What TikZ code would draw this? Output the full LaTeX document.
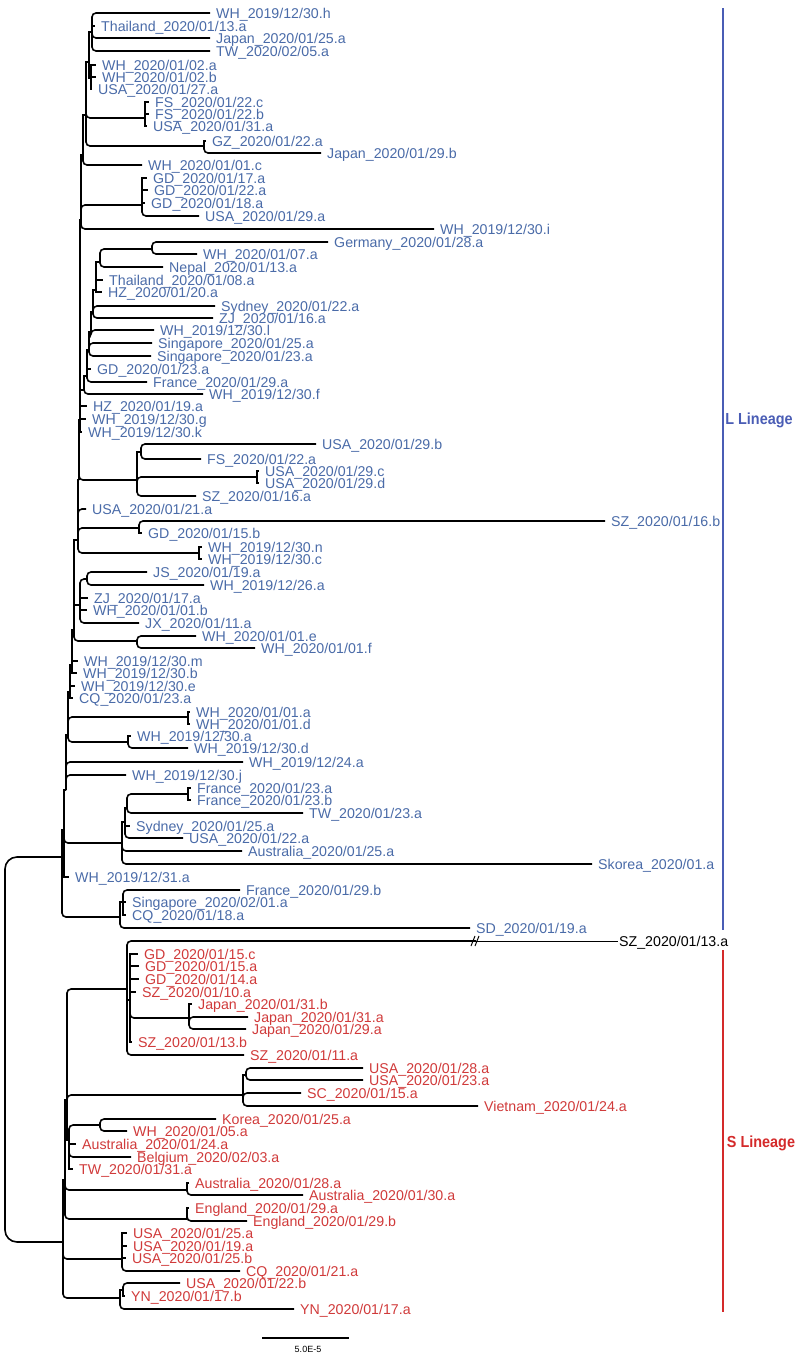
\documentclass[tikz,border=0pt]{standalone}
\usepackage{fontspec}
\setmainfont{Liberation Sans}
\definecolor{Lblue}{HTML}{4A6BA8}
\definecolor{Sred}{HTML}{D03A3A}
\definecolor{Lbar}{HTML}{4A5DB5}
\definecolor{Sbar}{HTML}{D42A2A}
\tikzset{
  br/.style={line width=1.6pt, rounded corners=4pt},
  brs/.style={line width=1.6pt},
  lab/.style={anchor=base west, inner sep=0pt, xshift=6pt, yshift=-5pt, font=\fontsize{14.2}{16}\selectfont},
  lin/.style={line width=2pt},
  linlab/.style={inner sep=0pt, font=\bfseries\fontsize{16}{18}\selectfont}
}
\newcommand\tp[5]{\coordinate (#1) at (#3,#4); \draw[br] (#2) |- (#1); \node[lab] (#1l) at (#1) {#5};}
\newcommand\tps[5]{\coordinate (#1) at (#3,#4); \draw[brs] (#2) |- (#1); \node[lab] (#1l) at (#1) {#5};}
\newcommand\nd[4]{\coordinate (#1) at (#3,#4); \draw[br] (#2) |- (#1);}
\newcommand\nds[4]{\coordinate (#1) at (#3,#4); \draw[brs] (#2) |- (#1);}
\begin{document}
\begin{tikzpicture}[x=1pt,y=-1pt]
\useasboundingbox (0,0) rectangle (795,1358);
\coordinate (R) at (5,1050);
\coordinate (L0) at (62,857);
\coordinate (S0) at (63,1242);
\draw[br, rounded corners=12pt] (R) |- (L0);
\draw[br, rounded corners=12pt] (R) |- (S0);
% ---------------- L lineage ----------------
\begin{scope}[lab/.append style={text=Lblue}]
\nds{L1}{L0}{64}{830}
\nd{F}{L0}{120}{917}
\nds{F1}{F}{123}{902}
\tp{frb}{F1}{240}{890}{France\_2020/01/29.b}
\tps{sgb}{F1}{126}{902}{Singapore\_2020/02/01.a}
\tps{cqb}{F1}{126}{915}{CQ\_2020/01/18.a}
\tp{sdb}{F}{470}{928}{SD\_2020/01/19.a}
\nd{G}{L1}{122}{843}
\nds{G1}{G}{125}{822}
\nds{G2}{G1}{127}{808}
\nd{Fr}{G2}{188}{794}
\tps{frc}{Fr}{191}{788}{France\_2020/01/23.a}
\tps{frd}{Fr}{191}{800}{France\_2020/01/23.b}
\tp{twc}{G2}{303}{813}{TW\_2020/01/23.a}
\tps{syc}{G1}{130}{826}{Sydney\_2020/01/25.a}
\tp{usc}{G1}{183}{838}{USA\_2020/01/22.a}
\tp{auc}{G}{242}{851}{Australia\_2020/01/25.a}
\tp{skc}{G}{592}{864}{Skorea\_2020/01.a}
\tps{whd}{L1}{69}{877}{WH\_2019/12/31.a}
\nds{L2}{L1}{66}{790}
\tp{whe}{L2}{126}{775}{WH\_2019/12/30.j}
\tp{whf}{L2}{243}{762}{WH\_2019/12/24.a}
\nds{L3}{L2}{68}{735}
\nd{Had}{L3}{188}{717}
\tps{whg}{Had}{190}{712}{WH\_2020/01/01.a}
\tps{whh}{Had}{190}{724}{WH\_2020/01/01.d}
\nd{Hd}{L3}{128}{742}
\tps{whi}{Hd}{131}{736}{WH\_2019/12/30.a}
\tp{whj}{Hd}{188}{748}{WH\_2019/12/30.d}
\nds{L4}{L3}{70}{692}
\tps{cqc}{L4}{73}{698}{CQ\_2020/01/23.a}
\tps{whk}{L4}{75}{686}{WH\_2019/12/30.e}
\nds{L5}{L4}{72}{665}
\tps{whl}{L5}{77}{673}{WH\_2019/12/30.b}
\tps{whm}{L5}{78}{661}{WH\_2019/12/30.m}
\nds{L6}{L5}{74}{630}
\nd{Pef}{L6}{137}{641}
\tp{whn}{Pef}{196}{636}{WH\_2020/01/01.e}
\tp{who}{Pef}{255}{648}{WH\_2020/01/01.f}
\nds{P2}{L6}{80}{605}
\tp{jxa}{P2}{139}{623}{JX\_2020/01/11.a}
\tps{whp}{P2}{87}{610}{WH\_2020/01/01.b}
\tps{zja}{P2}{88}{598}{ZJ\_2020/01/17.a}
\nd{P1}{P2}{87}{579}
\tp{jsa}{P1}{147}{572}{JS\_2020/01/19.a}
\tp{whq}{P1}{204}{585}{WH\_2019/12/26.a}
\nds{L7}{L6}{78}{540}
\nd{O1}{L7}{139}{528}
\tp{sza}{O1}{605}{521}{SZ\_2020/01/16.b}
\tps{gda}{O1}{142}{533}{GD\_2020/01/15.b}
\nd{O2}{L7}{199}{553}
\tps{whr}{O2}{202}{547}{WH\_2019/12/30.n}
\tps{whs}{O2}{202}{559}{WH\_2019/12/30.c}
\tp{usd}{L7}{86}{509}{USA\_2020/01/21.a}
\nds{L8}{L7}{79}{480}
\nd{N}{L8}{137}{480}
\nds{N1}{N}{141}{452}
\tp{use}{N1}{316}{444}{USA\_2020/01/29.b}
\tp{fsa}{N1}{201}{459}{FS\_2020/01/22.a}
\nd{Ncd}{N}{257}{477}
\tps{usf}{Ncd}{259}{471}{USA\_2020/01/29.c}
\tps{usg}{Ncd}{259}{483}{USA\_2020/01/29.d}
\tp{szb}{N}{196}{496}{SZ\_2020/01/16.a}
\nds{M0}{L8}{80}{420}
\tps{wht}{M0}{82}{432}{WH\_2019/12/30.k}
\tps{whu}{M0}{86}{419}{WH\_2019/12/30.g}
\tps{hza}{M0}{87}{406}{HZ\_2020/01/19.a}
\nds{M1}{M0}{84}{390}
\tp{whv}{M1}{203}{394}{WH\_2019/12/30.f}
\nds{M2}{M1}{87}{376}
\tp{fra}{M2}{147}{382}{France\_2020/01/29.a}
\tps{gdb}{M2}{91}{369}{GD\_2020/01/23.a}
\nds{M3}{M2}{89}{350}
\tp{sga}{M3}{151}{356}{Singapore\_2020/01/23.a}
\tp{sgc}{M3}{152}{343}{Singapore\_2020/01/25.a}
\nds{M4}{M3}{91}{332}
\tp{whw}{M4}{154}{330}{WH\_2019/12/30.l}
\nds{M5}{M4}{93}{312}
\tp{zjb}{M5}{213}{318}{ZJ\_2020/01/16.a}
\tp{sya}{M5}{215}{306}{Sydney\_2020/01/22.a}
\nds{M6}{M5}{96}{290}
\tps{hzb}{M6}{102}{292}{HZ\_2020/01/20.a}
\tps{tha}{M6}{103}{280}{Thailand\_2020/01/08.a}
\nds{M7}{M6}{100}{262}
\tp{npa}{M7}{163}{267}{Nepal\_2020/01/13.a}
\nd{Ger}{M7}{152}{249}
\tp{gea}{Ger}{328}{242}{Germany\_2020/01/28.a}
\tp{whx}{Ger}{197}{254}{WH\_2020/01/07.a}
\nds{T0}{M0}{81}{220}
\tp{why}{T0}{434}{229}{WH\_2019/12/30.i}
\nd{GDg}{T0}{142}{205}
\tps{gdc}{GDg}{147}{178}{GD\_2020/01/17.a}
\tps{gdd}{GDg}{148}{190}{GD\_2020/01/22.a}
\tps{gde}{GDg}{145}{203}{GD\_2020/01/18.a}
\tp{ush}{GDg}{199}{216}{USA\_2020/01/29.a}
\nds{T1}{T0}{83}{155}
\tp{whz}{T1}{142}{165}{WH\_2020/01/01.c}
\nds{T2}{T1}{86}{115}
\nd{FSg}{T2}{145}{118}
\tps{fsb}{FSg}{149}{102}{FS\_2020/01/22.c}
\tps{fsc}{FSg}{149}{114}{FS\_2020/01/22.b}
\tps{usi}{FSg}{147}{126}{USA\_2020/01/31.a}
\nd{GZg}{T2}{204}{146}
\tps{gza}{GZg}{206}{141}{GZ\_2020/01/22.a}
\tp{jpa}{GZg}{321}{153}{Japan\_2020/01/29.b}
\nds{T3}{T2}{89}{62}
\nds{B}{T3}{91}{78}
\tps{wa}{B}{96}{65}{WH\_2020/01/02.a}
\tps{wb}{B}{96}{77}{WH\_2020/01/02.b}
\tps{usj}{B}{92}{89}{USA\_2020/01/27.a}
\nds{T4}{T3}{92}{32}
\tp{wc}{T4}{210}{13}{WH\_2019/12/30.h}
\tps{thb}{T4}{95}{26}{Thailand\_2020/01/13.a}
\tp{jpb}{T4}{210}{38}{Japan\_2020/01/25.a}
\tp{twa}{T4}{210}{51}{TW\_2020/02/05.a}
\end{scope}
% ---------------- S lineage ----------------
\begin{scope}[lab/.append style={text=Sred}]
\nds{S1}{S0}{65}{1180}
\nd{Eng}{S1}{187}{1219}
\tps{ena}{Eng}{189}{1208}{England\_2020/01/29.a}
\tp{enb}{Eng}{247}{1221}{England\_2020/01/29.b}
\nd{Aus}{S1}{187}{1190}
\tps{aua}{Aus}{189}{1183}{Australia\_2020/01/28.a}
\tp{aub}{Aus}{303}{1195}{Australia\_2020/01/30.a}
\nds{S2}{S1}{67}{1100}
\nd{SZg}{S2}{127}{989}
\nds{Sin}{SZg}{130}{1000}
\tps{gsa}{Sin}{138}{954}{GD\_2020/01/15.c}
\tps{gsb}{Sin}{139}{966}{GD\_2020/01/15.a}
\tps{gsc}{Sin}{139}{979}{GD\_2020/01/14.a}
\tps{ssa}{Sin}{136}{992}{SZ\_2020/01/10.a}
\nd{Jg}{Sin}{189}{1018}
\tps{jsa2}{Jg}{192}{1004}{Japan\_2020/01/31.b}
\tp{jsb}{Jg}{248}{1017}{Japan\_2020/01/31.a}
\tp{jsc}{Jg}{246}{1029}{Japan\_2020/01/29.a}
\tps{ssb}{Sin}{132}{1042}{SZ\_2020/01/13.b}
\tp{ssc}{SZg}{244}{1055}{SZ\_2020/01/11.a}
\nd{Vg}{S2}{243}{1095}
\nds{V1}{Vg}{246}{1075}
\tp{usa}{V1}{363}{1068}{USA\_2020/01/28.a}
\tp{usb}{V1}{363}{1080}{USA\_2020/01/23.a}
\tp{sca}{Vg}{301}{1093}{SC\_2020/01/15.a}
\tp{vna}{Vg}{478}{1106}{Vietnam\_2020/01/24.a}
\nds{S3}{S2}{69}{1140}
\nd{K}{S3}{100}{1125}
\tp{kra}{K}{216}{1119}{Korea\_2020/01/25.a}
\tp{wsa}{K}{127}{1131}{WH\_2020/01/05.a}
\tps{auc2}{S3}{76}{1144}{Australia\_2020/01/24.a}
\tp{bea}{S3}{131}{1157}{Belgium\_2020/02/03.a}
\tps{tsa}{S3}{73}{1169}{TW\_2020/01/31.a}
\nd{USAg}{S0}{122}{1259}
\tps{usk}{USAg}{127}{1233}{USA\_2020/01/25.a}
\tps{usl}{USAg}{127}{1246}{USA\_2020/01/19.a}
\tps{usm}{USAg}{126}{1258}{USA\_2020/01/25.b}
\tp{cqs}{USAg}{240}{1271}{CQ\_2020/01/21.a}
\nd{YN}{S0}{120}{1298}
\nds{Y1}{YN}{123}{1290}
\tp{usn}{Y1}{180}{1283}{USA\_2020/01/22.b}
\tps{yna}{Y1}{125}{1296}{YN\_2020/01/17.b}
\tp{ynb}{YN}{294}{1309}{YN\_2020/01/17.a}
\end{scope}
% long branch with break
\coordinate (brk) at (476,941);
\coordinate (szt) at (618,941);
\draw[br] (SZg) |- (brk);
\draw[line width=1pt] (brk) -- (szt);
\node[lab, xshift=-5pt] (sztl) at (szt) {SZ\_2020/01/13.a};
\draw[line width=1pt] ([shift={(-5,5)}]brk) -- ([shift={(-1,-5)}]brk);
\draw[line width=1pt] ([shift={(-1,5)}]brk) -- ([shift={(3,-5)}]brk);
% lineage bars
\coordinate (lt) at (723,8);
\coordinate (lb) at (723,930);
\coordinate (st) at (723,950);
\coordinate (sb) at (723,1312);
\draw[lin, Lbar] (lt) -- (lb);
\draw[lin, Sbar] (st) -- (sb);
\node[linlab, text=Lbar] (Llab) at (759,420) {\scalebox{0.9}[1]{L Lineage}};
\node[linlab, text=Sbar] (Slab) at (761,1143) {\scalebox{0.9}[1]{S Lineage}};
% scale bar
\coordinate (sba) at (262,1338);
\coordinate (sbb) at (349,1338);
\draw[line width=1.2pt] (sba) -- (sbb);
\node[inner sep=0pt, font=\fontsize{9}{10}\selectfont] (sbl) at (308,1349) {5.0E-5};
\end{tikzpicture}
\end{document}
